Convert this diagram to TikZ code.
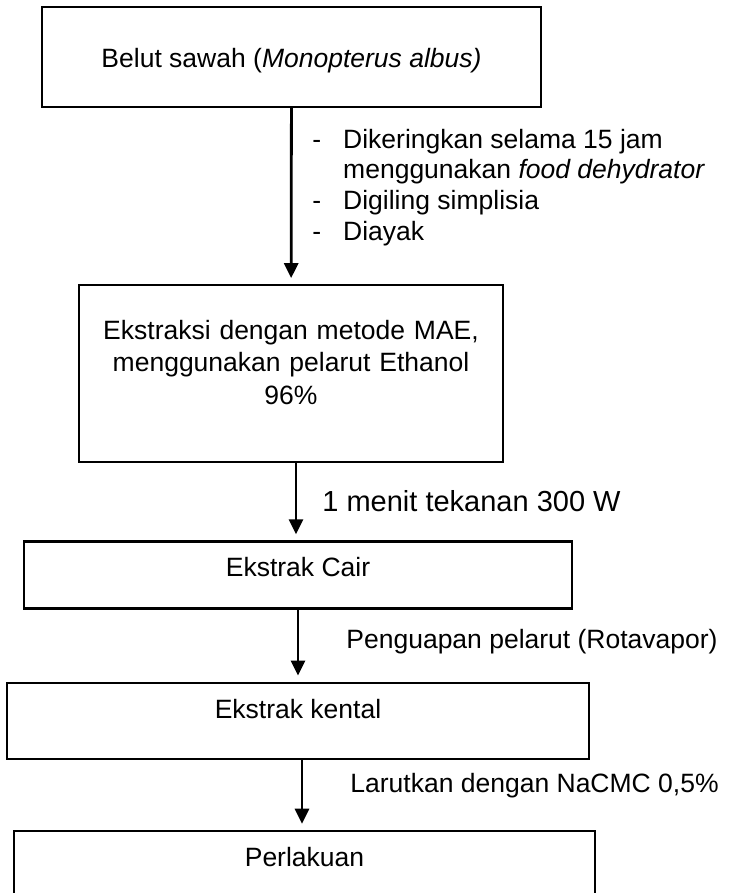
\documentclass[tikz,border=0pt]{standalone}
\usepackage{fontspec}
\setmainfont{Liberation Sans}
\usepackage{tikz}
\usetikzlibrary{arrows.meta,positioning}

\begin{document}
\begin{tikzpicture}[
x=0.5pt,y=-0.5pt,
node distance=36pt,
box/.style={rectangle,draw,line width=1.1pt,inner sep=0pt,align=center,
font=\fontsize{13.25}{16.25}\selectfont},
note/.style={inner sep=0pt,anchor=base west,font=\fontsize{13.25}{15.3}\selectfont},
arrow/.style={-{Triangle[width=7pt,length=7.5pt]},line width=1.4pt,shorten >=3pt}]
\clip (0,0) rectangle (728,893);
\node[box,minimum width=249.5pt,text height=30.5pt,text depth=19.5pt] (belut) at (291.5,57) {Belut sawah (\textit{Monopterus albus)}};
\node[box,below=88pt of belut,xshift=-0.25pt,minimum width=212pt,text width=200pt,
text height=27pt,text depth=61.5pt] (ekstraksi) {Ekstraksi dengan metode MAE,\\ menggunakan pelarut Ethanol\\ 96\%};
\node[box,below=38.5pt of ekstraksi,xshift=3.5pt,minimum width=274pt,text height=17.75pt,text depth=15.75pt] (cair) {Ekstrak Cair};
\node[box,below=of cair,minimum width=291pt,text height=17.8pt,text depth=20.2pt] (kental) {Ekstrak kental};
\node[box,below=35pt of kental,xshift=3.25pt,minimum width=290.5pt,text height=18pt,text depth=20pt] (perlakuan) {Perlakuan};
\draw[arrow] (belut) -- (ekstraksi);
\draw[arrow] ([xshift=-1pt]ekstraksi.south -| cair) -- ([xshift=-1pt]cair.north);
\draw[arrow] (cair) -- (kental);
\draw[arrow] ([xshift=2pt]kental.south) -- ([xshift=2pt]kental.south |- perlakuan.north);
\node[note] (pretreat) at (312,148.3) {\begin{tabular}[t]{@{}l@{\hspace{11pt}}l@{}}-&Dikeringkan selama 15 jam\\ &menggunakan \textit{food dehydrator}\\ -&Digiling simplisia\\ -&Diayak\end{tabular}};
\node[note,font=\fontsize{14.5}{17}\selectfont] (microwave) at (322,511.7) {1 menit tekanan 300 W};
\node[note] (evaporate) at (346,648.3) {Penguapan pelarut (Rotavapor)};
\node[note] (dissolve) at (350,792.7) {Larutkan dengan NaCMC 0,5\%};
\end{tikzpicture}
\end{document}
